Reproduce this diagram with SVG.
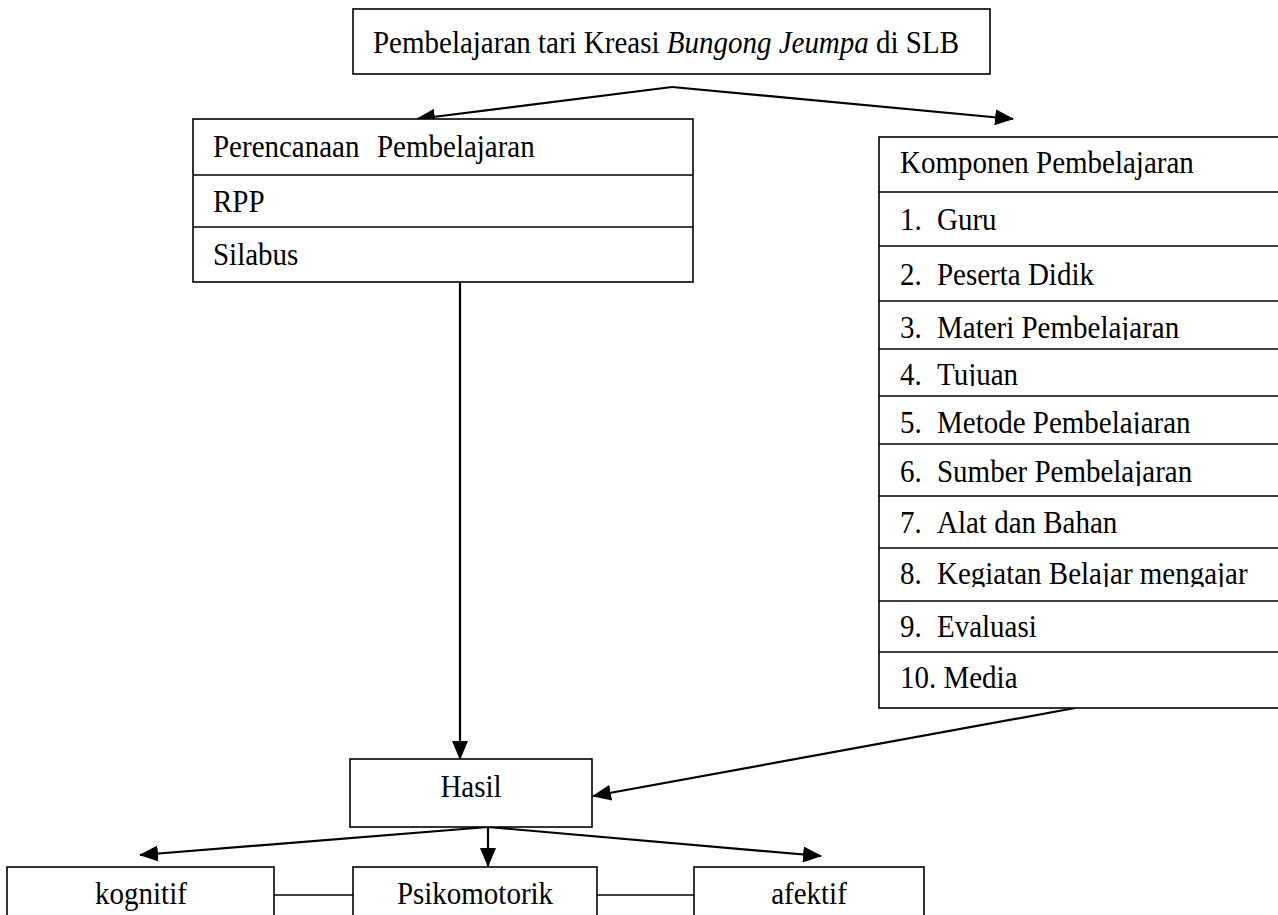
<svg xmlns="http://www.w3.org/2000/svg" width="1278" height="915" viewBox="0 0 1278 915">
<style>
  .box { fill: #fff; stroke: #000; stroke-width: 1.6; }
  .div { stroke: #000; stroke-width: 1.6; fill: none; }
  .t { font-family: "Liberation Serif", "Times New Roman", serif; font-size: 29px; fill: #000; }
  .c { text-anchor: middle; }
  .conn { stroke: #000; stroke-width: 2.2; fill: none; }
  .plain { stroke: #000; stroke-width: 1.6; fill: none; }
</style>
<defs>
  <marker id="arr" markerUnits="userSpaceOnUse" markerWidth="19" markerHeight="16" refX="18" refY="8" orient="auto">
    <path d="M0,0 L19,8 L0,16 z" fill="#000"/>
  </marker>
  <clipPath id="clip3"><rect x="880" y="301" width="400" height="39"/></clipPath>
  <clipPath id="clip4"><rect x="880" y="349" width="400" height="37"/></clipPath>
  <clipPath id="clip5"><rect x="880" y="396" width="400" height="38"/></clipPath>
  <clipPath id="clip6"><rect x="880" y="444" width="400" height="42"/></clipPath>
  <clipPath id="clip8"><rect x="880" y="548" width="400" height="39"/></clipPath>
</defs>
<rect width="1278" height="915" fill="#fff"/>

<g id="connectors">
  <line class="conn" x1="672" y1="87" x2="417" y2="119" marker-end="url(#arr)"/>
  <line class="conn" x1="672" y1="87" x2="1013" y2="119" marker-end="url(#arr)"/>
  <line class="conn" x1="460" y1="282" x2="460" y2="759" marker-end="url(#arr)"/>
  <line class="conn" x1="1075" y1="708" x2="593" y2="796" marker-end="url(#arr)"/>
  <line class="conn" x1="488" y1="827" x2="140" y2="855" marker-end="url(#arr)"/>
  <line class="conn" x1="488" y1="827" x2="488" y2="866" marker-end="url(#arr)"/>
  <line class="conn" x1="488" y1="827" x2="821" y2="856" marker-end="url(#arr)"/>
  <line class="plain" x1="274" y1="895" x2="353" y2="895"/>
  <line class="plain" x1="597" y1="895" x2="694" y2="895"/>
</g>

<g id="node-top">
  <rect class="box" x="353" y="9" width="637" height="65"/>
  <text class="t" x="373" y="53" transform="matrix(1,0,0,1.1,0,-5.3)">Pembelajaran tari Kreasi <tspan font-style="italic">Bungong Jeumpa</tspan> di SLB</text>
</g>

<g id="node-perencanaan">
  <rect class="box" x="193" y="119" width="500" height="163"/>
  <line class="div" x1="193" y1="175" x2="693" y2="175"/>
  <line class="div" x1="193" y1="227" x2="693" y2="227"/>
  <text class="t" x="213" y="157" transform="matrix(1,0,0,1.1,0,-15.7)">Perencanaan <tspan x="377">Pembelajaran</tspan></text>
  <text class="t" x="213" y="212" transform="matrix(1,0,0,1.1,0,-21.2)">RPP</text>
  <text class="t" x="213" y="265" transform="matrix(1,0,0,1.1,0,-26.5)">Silabus</text>
</g>

<g id="node-komponen">
  <rect class="box" x="879" y="137" width="420" height="571"/>
  <line class="div" x1="879" y1="192" x2="1278" y2="192"/>
  <line class="div" x1="879" y1="246" x2="1278" y2="246"/>
  <line class="div" x1="879" y1="301" x2="1278" y2="301"/>
  <line class="div" x1="879" y1="349" x2="1278" y2="349"/>
  <line class="div" x1="879" y1="396" x2="1278" y2="396"/>
  <line class="div" x1="879" y1="444" x2="1278" y2="444"/>
  <line class="div" x1="879" y1="496" x2="1278" y2="496"/>
  <line class="div" x1="879" y1="548" x2="1278" y2="548"/>
  <line class="div" x1="879" y1="601" x2="1278" y2="601"/>
  <line class="div" x1="879" y1="652" x2="1278" y2="652"/>
  <text class="t" x="900" y="173" transform="matrix(1,0,0,1.1,0,-17.3)">Komponen Pembelajaran</text>
  <text class="t" x="900" y="230" transform="matrix(1,0,0,1.1,0,-23)">1.<tspan x="937">Guru</tspan></text>
  <text class="t" x="900" y="285" transform="matrix(1,0,0,1.1,0,-28.5)">2.<tspan x="937">Peserta Didik</tspan></text>
  <g clip-path="url(#clip3)"><text class="t" x="900" y="338" transform="matrix(1,0,0,1.1,0,-33.8)">3.<tspan x="937">Materi Pembelajaran</tspan></text></g>
  <g clip-path="url(#clip4)"><text class="t" x="900" y="385" transform="matrix(1,0,0,1.1,0,-38.5)">4.<tspan x="937">Tujuan</tspan></text></g>
  <g clip-path="url(#clip5)"><text class="t" x="900" y="433" transform="matrix(1,0,0,1.1,0,-43.3)">5.<tspan x="937">Metode Pembelajaran</tspan></text></g>
  <g clip-path="url(#clip6)"><text class="t" x="900" y="482" transform="matrix(1,0,0,1.1,0,-48.2)">6.<tspan x="937">Sumber Pembelajaran</tspan></text></g>
  <text class="t" x="900" y="533" transform="matrix(1,0,0,1.1,0,-53.3)">7.<tspan x="937">Alat dan Bahan</tspan></text>
  <g clip-path="url(#clip8)"><text class="t" x="900" y="584" transform="matrix(1,0,0,1.1,0,-58.4)">8.<tspan x="937">Kegiatan Belajar mengajar</tspan></text></g>
  <text class="t" x="900" y="637" transform="matrix(1,0,0,1.1,0,-63.7)">9.<tspan x="937">Evaluasi</tspan></text>
  <text class="t" x="900" y="688" transform="matrix(1,0,0,1.1,0,-68.8)">10. Media</text>
</g>

<g id="node-hasil">
  <rect class="box" x="350" y="759" width="242" height="68"/>
  <text class="t c" x="471" y="797" transform="matrix(1,0,0,1.1,0,-79.7)">Hasil</text>
</g>

<g id="node-kognitif">
  <rect class="box" x="7" y="867" width="267" height="70"/>
  <text class="t c" x="141" y="904" transform="matrix(1,0,0,1.1,0,-90.4)">kognitif</text>
</g>

<g id="node-psikomotorik">
  <rect class="box" x="353" y="867" width="244" height="70"/>
  <text class="t c" x="475" y="904" transform="matrix(1,0,0,1.1,0,-90.4)">Psikomotorik</text>
</g>

<g id="node-afektif">
  <rect class="box" x="694" y="867" width="230" height="70"/>
  <text class="t c" x="809" y="904" transform="matrix(1,0,0,1.1,0,-90.4)">afektif</text>
</g>
</svg>
